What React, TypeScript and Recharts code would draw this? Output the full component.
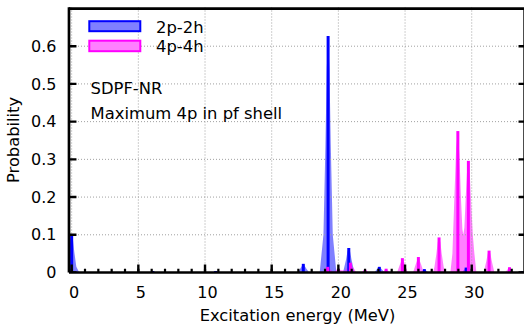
import React from 'react';
import { ComposedChart, Area, Line, Scatter, ErrorBar, XAxis, YAxis } from 'recharts';

// ---- axis ticks ----
const xMajorTicks = [0, 5, 10, 15, 20, 25, 30];
const xMinorTicks = [0, 1, 2, 3, 4, 5, 6, 7, 8, 9, 10, 11, 12, 13, 14, 15, 16, 17, 18, 19, 20, 21, 22, 23, 24, 25, 26, 27, 28, 29, 30, 31, 32, 33, 34];
const yTicks = [0, 0.1, 0.2, 0.3, 0.4, 0.5, 0.6];

// ---- legend / series names ----
const seriesNames = ['2p-2h', '4p-4h'];
const annotations = ['SDPF-NR', 'Maximum 4p in pf shell'];

// ---- 2p-2h states (impulses) ----
const blueStateE = [0, 6.08, 10.8, 17.37, 19.23, 20.78, 23.07, 26.45, 29.58, 33.8];
const blueStateP = [0.1, 0.004, 0.004, 0.023, 0.627, 0.065, 0.015, 0.009, 0.013, 0.004];

// ---- 4p-4h states (impulses) ----
const magStateE = [19.2, 20.0, 20.9, 22.0, 23.58, 24.8, 26.0, 27.55, 28.96, 29.75, 31.3, 32.83];
const magStateP = [0.015, 0.01, 0.026, 0.007, 0.01, 0.038, 0.041, 0.093, 0.375, 0.296, 0.058, 0.014];

// ---- 2p-2h smeared strength ----
const blueSmearE = [
  -0.2, -0.1, 0, 0.1, 0.2, 0.35, 0.55, 0.7,
  5.8, 6.08, 6.36,
  10.5, 10.8, 11.1,
  16.95, 17.17, 17.37, 17.57, 17.8,
  18.6, 18.88, 19.03, 19.13, 19.23, 19.33, 19.43, 19.58, 19.85,
  20.35, 20.58, 20.68, 20.78, 20.88, 20.98, 21.2,
  22.7, 22.87, 23.07, 23.27, 23.45,
  26.15, 26.45, 26.75,
  29.25, 29.58, 29.9,
  33.5, 33.8, 34.1,
];
const blueSmearP = [
  0.054, 0.086, 0.1, 0.086, 0.054, 0.015, 0.001, 0,
  0, 0.004, 0,
  0, 0.004, 0,
  0, 0.012, 0.023, 0.012, 0,
  0, 0.1, 0.34, 0.54, 0.627, 0.54, 0.34, 0.1, 0,
  0, 0.035, 0.056, 0.065, 0.056, 0.035, 0,
  0, 0.008, 0.015, 0.008, 0,
  0, 0.009, 0,
  0, 0.013, 0,
  0, 0.004, 0,
];

// ---- 4p-4h smeared strength ----
const magSmearE = [
  18.85, 19.0, 19.2, 19.4, 19.6, 19.8, 20.0, 20.2, 20.5, 20.7, 20.9, 21.1, 21.35,
  21.7, 22.0, 22.3,
  23.28, 23.58, 23.88,
  24.4, 24.6, 24.8, 25.0, 25.2,
  25.6, 25.8, 26.0, 26.2, 26.4,
  27.1, 27.2, 27.35, 27.45, 27.55, 27.65, 27.75, 27.9, 28.05,
  28.4, 28.55, 28.7, 28.83, 28.96, 29.08, 29.2, 29.3, 29.37, 29.45, 29.55, 29.65, 29.75, 29.87, 29.95, 30.08, 30.2, 30.35,
  30.9, 31.1, 31.2, 31.3, 31.4, 31.5, 31.7,
  32.5, 32.83, 33.15,
];
const magSmearP = [
  0, 0.008, 0.015, 0.008, 0.002, 0.005, 0.01, 0.006, 0.005, 0.014, 0.026, 0.014, 0,
  0, 0.007, 0,
  0, 0.01, 0,
  0, 0.02, 0.038, 0.02, 0,
  0, 0.022, 0.041, 0.022, 0,
  0, 0.014, 0.05, 0.08, 0.093, 0.08, 0.05, 0.014, 0,
  0, 0.05, 0.2, 0.33, 0.375, 0.31, 0.19, 0.115, 0.1, 0.12, 0.2, 0.27, 0.296, 0.25, 0.19, 0.1, 0.05, 0,
  0, 0.031, 0.05, 0.058, 0.05, 0.031, 0,
  0, 0.014, 0,
];

const FONT = 'DejaVu Sans';
const BLUE = '#0000ff';
const MAG = '#ff00ff';
const X0 = -0.2;
const X1 = 34.07;
const Y_MAX = 0.703;
const X_DOMAIN: [number, number] = [X0, X1];
const Y_DOMAIN: [number, number] = [0, Y_MAX];
// tick lengths expressed in axis units
const TICK_X = 0.56;
const TICK_Y_MAJOR = 0.021;
const TICK_Y_MINOR = 0.01;

const blueSmear = blueSmearE.map((E, i) => ({ E, v: blueSmearP[i] }));
const magSmear = magSmearE.map((E, i) => ({ E, v: magSmearP[i] }));
const blueStates = blueStateE.map((E, i) => ({ E, h: blueStateP[i], err: [blueStateP[i], 0] }));
const magStates = magStateE.map((E, i) => ({ E, h: magStateP[i], err: [magStateP[i], 0] }));

// grid lines drawn as error bars anchored on the tick values
const gridVPts = xMajorTicks.map((t) => ({ E: t, h: 0, err: [0, Y_MAX] }));
const gridHPts = yTicks.filter((v) => v > 0).map((v) => ({ E: X0, h: v, errX: [0, X1 - X0] }));

type Seg = [number, number, number, number];
const toSegments = (segs: Seg[]) =>
  segs.flatMap(([e1, g1, e2, g2]) => [
    { E: e1, g: g1 },
    { E: e2, g: g2 },
    { E: e2, g: null },
  ]);

const frame = toSegments([[X0, Y_MAX, X1, Y_MAX], [X1, Y_MAX, X1, 0]]);
const ticksMajor = toSegments([
  ...xMajorTicks.map((t): Seg => [t, 0, t, TICK_Y_MAJOR]),
  ...yTicks.map((v): Seg => [X0, v, X0 + TICK_X, v]),
  ...yTicks.map((v): Seg => [X1 - TICK_X, v, X1, v]),
]);
const ticksMinor = toSegments(xMinorTicks.map((t): Seg => [t, 0, t, TICK_Y_MINOR]));

const Nothing = () => <g />;

const lineCommon = {
  dataKey: 'g',
  type: 'linear' as const,
  dot: false,
  activeDot: false,
  connectNulls: false,
  isAnimationActive: false,
  legendType: 'none' as const,
};

const css = `.dotted-grid line { stroke-dasharray: 1 2; shape-rendering: crispEdges; }`;

export default function App() {
  return (
    <div style={{ position: 'absolute', left: 0, top: 0, width: 524, height: 324, overflow: 'hidden', background: '#fff', fontFamily: FONT }}>
      <style>{css}</style>
      <ComposedChart
        width={530}
        height={324}
        margin={{ top: 7.35, right: 4, bottom: 0, left: 0 }}
        style={{ fontFamily: FONT }}
      >
        <XAxis
          type="number"
          dataKey="E"
          domain={X_DOMAIN}
          allowDataOverflow
          ticks={xMajorTicks}
          interval={0}
          height={51.5}
          tickSize={0}
          tickMargin={14}
          tickLine={false}
          axisLine={{ stroke: '#000', strokeWidth: 2.7 }}
          tick={{ fill: '#000', fontSize: 16, fontFamily: FONT, dx: 2.5 }}
          label={{ value: 'Excitation energy (MeV)', position: 'insideBottom', offset: 3.3, fill: '#000', fontSize: 16.3, fontFamily: FONT }}
        />
        <YAxis
          type="number"
          domain={Y_DOMAIN}
          allowDataOverflow
          ticks={yTicks}
          interval={0}
          width={69}
          tickSize={0}
          tickMargin={12.5}
          tickLine={false}
          axisLine={{ stroke: '#000', strokeWidth: 2.7 }}
          tick={{ fill: '#000', fontSize: 16, fontFamily: FONT }}
          label={{ value: 'Probability', angle: -90, position: 'insideLeft', offset: 13.3, fill: '#000', fontSize: 16.3, fontFamily: FONT, style: { textAnchor: 'middle' } }}
        />
        <Scatter className="dotted-grid" data={gridVPts} dataKey="h" shape={Nothing} isAnimationActive={false} legendType="none">
          <ErrorBar dataKey="err" direction="y" width={0} stroke="#a0a0a0" strokeWidth={1} strokeDasharray="1 2" isAnimationActive={false} />
        </Scatter>
        <Scatter className="dotted-grid" data={gridHPts} dataKey="h" shape={Nothing} isAnimationActive={false} legendType="none">
          <ErrorBar dataKey="errX" direction="x" width={0} stroke="#a0a0a0" strokeWidth={1} strokeDasharray="1 2" isAnimationActive={false} />
        </Scatter>
        <Area
          data={blueSmear}
          dataKey="v"
          type="linear"
          stroke="none"
          fill={BLUE}
          fillOpacity={0.5}
          dot={false}
          activeDot={false}
          isAnimationActive={false}
        />
        <Area
          data={magSmear}
          dataKey="v"
          type="linear"
          stroke="none"
          fill={MAG}
          fillOpacity={0.5}
          dot={false}
          activeDot={false}
          isAnimationActive={false}
        />
        <Scatter data={blueStates} dataKey="h" shape={Nothing} isAnimationActive={false}>
          <ErrorBar dataKey="err" direction="y" width={0} stroke={BLUE} strokeWidth={3} isAnimationActive={false} />
        </Scatter>
        <Scatter data={magStates} dataKey="h" shape={Nothing} isAnimationActive={false}>
          <ErrorBar dataKey="err" direction="y" width={0} stroke={MAG} strokeWidth={3} isAnimationActive={false} />
        </Scatter>
        <Line {...lineCommon} data={ticksMinor} stroke="#000" strokeWidth={2.2} />
        <Line {...lineCommon} data={ticksMajor} stroke="#000" strokeWidth={2.4} />
        <Line {...lineCommon} data={frame} stroke="#000" strokeWidth={5.4} />
      </ComposedChart>
      <svg
        width={524}
        height={324}
        style={{ position: 'absolute', left: 0, top: 0, pointerEvents: 'none' }}
        fontFamily={FONT}
        fontSize={16.4}
      >
        <rect x={89.3} y={21.2} width={51} height={10} fill="#8080ff" stroke={BLUE} strokeWidth={2} />
        <text x={156} y={33.2} fill="#000">{seriesNames[0]}</text>
        <rect x={89.3} y={40.7} width={51} height={10.5} fill="#ff80ff" stroke={MAG} strokeWidth={2} />
        <text x={156} y={52} fill="#000">{seriesNames[1]}</text>
        <text x={90.5} y={94.3} fill="#000">{annotations[0]}</text>
        <text x={90.5} y={119} fill="#000">{annotations[1]}</text>
      </svg>
    </div>
  );
}
